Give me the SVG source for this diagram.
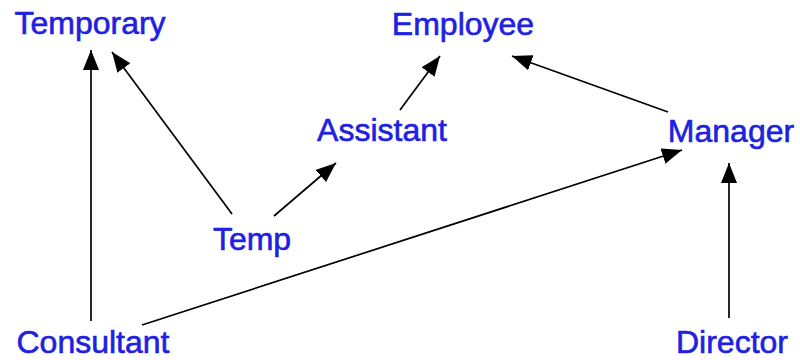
<svg xmlns="http://www.w3.org/2000/svg" width="800" height="360" viewBox="0 0 800 360">
<style>
.lbl{font-family:"Liberation Sans",Arial,sans-serif;font-size:32px;fill:#2020e0;stroke:#2020e0;stroke-width:0.6;text-anchor:middle}
.e{stroke:#000;stroke-width:1.7;fill:none;marker-end:url(#ah)}
</style>
<defs>
<marker id="ah" markerWidth="22" markerHeight="16" refX="20" refY="8" orient="auto" markerUnits="userSpaceOnUse">
<path d="M0,0 L20,8 L0,16 Z" fill="#000"/>
</marker>
</defs>
<rect width="800" height="360" fill="#fff"/>
<g id="edges">
<line class="e" x1="91" y1="321" x2="91" y2="50"/>
<line class="e" x1="232" y1="214" x2="112" y2="52"/>
<line class="e" x1="274" y1="216" x2="336" y2="163"/>
<line class="e" x1="400" y1="110" x2="440" y2="56"/>
<line class="e" x1="668" y1="112" x2="512" y2="56"/>
<line class="e" x1="142" y1="325" x2="682" y2="150"/>
<line class="e" x1="729" y1="318" x2="729" y2="163"/>
</g>
<g id="temporary"><text class="lbl" x="90" y="34">Temporary</text></g>
<g id="employee"><text class="lbl" x="463" y="35">Employee</text></g>
<g id="assistant"><text class="lbl" x="382" y="141">Assistant</text></g>
<g id="manager"><text class="lbl" x="731" y="142">Manager</text></g>
<g id="temp"><text class="lbl" x="252" y="250">Temp</text></g>
<g id="consultant"><text class="lbl" x="93" y="353">Consultant</text></g>
<g id="director"><text class="lbl" x="732" y="353">Director</text></g>
</svg>
